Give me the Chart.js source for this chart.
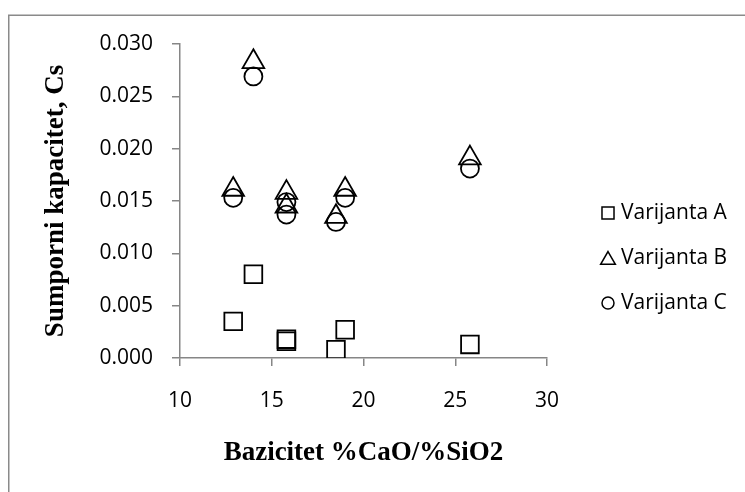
<!DOCTYPE html>
<html>
<head>
<meta charset="utf-8">
<script src="https://cdn.jsdelivr.net/npm/chart.js@4/dist/chart.umd.min.js"></script>
<style>
  html, body { margin: 0; padding: 0; background: #fff; }
  canvas { display: block; }
</style>
</head>
<body>
<canvas id="sulfurChart" width="745" height="492"></canvas>
<script>
// basicity (%CaO/%SiO2) for each sample
const basicity = [12.9, 14.0, 15.8, 15.8, 18.5, 19.0, 25.8];

// sulphide capacity, Cs
const variantA = [0.0035, 0.0080, 0.0018, 0.0016, 0.0008, 0.0027, 0.0013];
const variantB = [0.0161, 0.0283, 0.0158, 0.0145, 0.0135, 0.0161, 0.0191];
const variantC = [0.0153, 0.0269, 0.0149, 0.0137, 0.0130, 0.0153, 0.0181];

const seriesNames = ['Varijanta A', 'Varijanta B', 'Varijanta C'];

const xTicks = [10, 15, 20, 25, 30];
const yTicks = [0, 0.005, 0.010, 0.015, 0.020, 0.025, 0.030];

const toPoints = (ys) => ys.map((y, i) => ({ x: basicity[i], y: y }));

const axisGray = '#868686';
const tickFont = { family: 'Open Sans', size: 21 };
const titleFont = { family: 'Liberation Serif', size: 27, weight: 'bold', lineHeight: 1 };

// grey frame around the whole figure (cut off at right/bottom like the original)
const framePlugin = {
  id: 'frame',
  beforeDraw(chart) {
    const { ctx } = chart;
    ctx.save();
    ctx.fillStyle = '#fff';
    ctx.fillRect(0, 0, chart.width, chart.height);
    ctx.strokeStyle = '#8a8a8a';
    ctx.lineWidth = 1.5;
    ctx.strokeRect(8.75, 15.25, chart.width + 20, chart.height + 20);
    ctx.restore();
  }
};

// legend on the right, markers + labels
const sideLegend = {
  id: 'sideLegend',
  afterDraw(chart) {
    const { ctx } = chart;
    const rows = [213, 258, 303];
    ctx.save();
    chart.data.datasets.forEach((ds, i) => {
      const y = rows[i];
      ctx.strokeStyle = '#000';
      ctx.fillStyle = 'rgba(0,0,0,0)';
      ctx.lineWidth = 1.5;
      const r = ds.pointStyle === 'rect' ? 8.5 : (ds.pointStyle === 'triangle' ? 8.5 : 6);
      const yy = ds.pointStyle === 'triangle' ? y + 2 : y;
      Chart.helpers.drawPoint(ctx, { pointStyle: ds.pointStyle, radius: r, borderWidth: 1.5 }, 608, yy);
      ctx.fillStyle = '#000';
      ctx.font = '21px "Open Sans"';
      ctx.textAlign = 'left';
      ctx.textBaseline = 'middle';
      ctx.fillText(ds.label, 621, y);
    });
    ctx.restore();
  }
};

const markerCommon = {
  showLine: false,
  borderColor: '#000',
  backgroundColor: 'rgba(0,0,0,0)',
  borderWidth: 1.8,
  pointRadius: 12,
  pointHoverRadius: 12,
};

new Chart(document.getElementById('sulfurChart'), {
  type: 'scatter',
  data: {
    datasets: [
      { ...markerCommon, label: seriesNames[0], data: toPoints(variantA), pointStyle: 'rect', pointRadius: 12.5, pointHoverRadius: 12.5 },
      { ...markerCommon, label: seriesNames[1], data: toPoints(variantB), pointStyle: 'triangle', pointRadius: 12.5, pointHoverRadius: 12.5 },
      { ...markerCommon, label: seriesNames[2], data: toPoints(variantC), pointStyle: 'circle', pointRadius: 9, pointHoverRadius: 9 },
    ],
  },
  options: {
    responsive: false,
    animation: false,
    layout: {
      padding: { left: 0, top: 44, right: 198, bottom: 0 },
    },
    scales: {
      x: {
        type: 'linear',
        min: 10,
        max: 30,
        afterBuildTicks: (scale) => { scale.ticks = xTicks.map(v => ({ value: v })); },
        afterFit: (scale) => { scale.height = 134; },
        grid: { drawOnChartArea: false, drawTicks: true, tickLength: 8, color: axisGray, lineWidth: 1.5 },
        border: { color: axisGray, width: 1.5 },
        ticks: { color: '#000', font: tickFont, padding: 22, maxRotation: 0 },
        title: {
          display: true,
          text: 'Bazicitet %CaO/%SiO2',
          color: '#000',
          font: titleFont,
          padding: { top: 0, bottom: 25 },
        },
      },
      y: {
        type: 'linear',
        min: 0,
        max: 0.03,
        afterBuildTicks: (scale) => { scale.ticks = yTicks.map(v => ({ value: v })); },
        afterFit: (scale) => { scale.width = 180; },
        grid: { drawOnChartArea: false, drawTicks: true, tickLength: 8, color: axisGray, lineWidth: 1.5 },
        border: { color: axisGray, width: 1.5 },
        ticks: {
          color: '#000',
          font: tickFont,
          padding: 19,
          callback: (v) => Number(v).toFixed(3),
        },
        title: {
          display: true,
          text: 'Sumporni kapacitet, Cs',
          color: '#000',
          font: titleFont,
          padding: { top: 43, bottom: 0 },
        },
      },
    },
    plugins: {
      legend: { display: false },
      tooltip: { enabled: false },
    },
  },
  plugins: [framePlugin, sideLegend],
});
</script>
</body>
</html>
